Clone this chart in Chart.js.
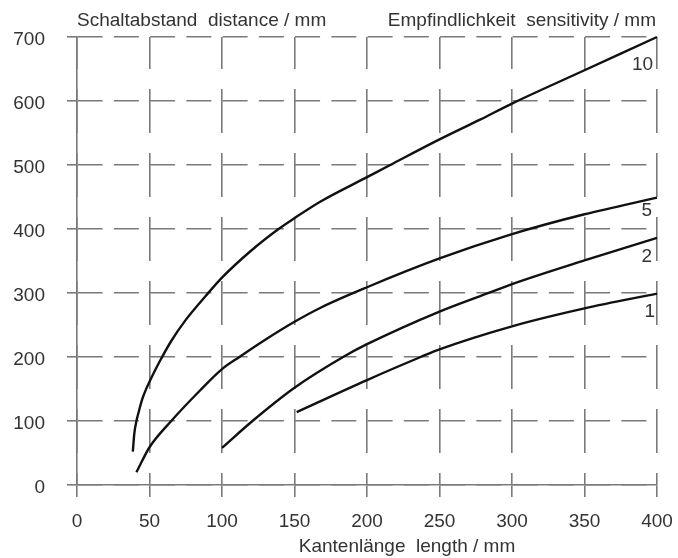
<!DOCTYPE html>
<html>
<head>
<meta charset="utf-8">
<script src="https://cdn.jsdelivr.net/npm/chart.js@4.4.0/dist/chart.umd.min.js"></script>
<style>
  html, body { margin: 0; padding: 0; background: #fff; }
  #wrap { width: 678px; height: 558px; }
</style>
</head>
<body>
<div id="wrap"><canvas id="chart" width="678" height="558"></canvas></div>
<script>
// Kantenlänge (mm) und Schaltabstand (mm) je Empfindlichkeit
const curve10X = [38.5, 39.5, 41, 43, 45, 47.5, 50, 53, 57, 65, 75, 89, 100, 120, 139, 150, 168, 200, 216, 250, 278, 300, 350, 400];
const curve10Y = [52, 80, 100, 118, 134, 149, 161.5, 175.5, 193, 225, 258, 296, 324, 366, 400, 417, 443, 481, 500, 540, 571, 596, 648, 700];

const curve5X = [41, 50, 65, 85, 100, 112, 128.5, 150, 168, 200, 250, 300, 350, 400];
const curve5Y = [20, 59, 100, 148, 181, 200, 225, 255, 277, 309, 354, 392, 423, 449];

const curve2X = [100, 121, 150, 183.5, 200, 250, 282.5, 300, 350, 400];
const curve2Y = [58, 100, 152, 200, 220, 271, 299, 314, 351, 386];

const curve1X = [151.5, 200, 237, 250, 300, 350, 400];
const curve1Y = [114, 164, 200, 212, 248, 276, 299];

const curveNames = ["10", "5", "2", "1"];

const xTicks = [0, 50, 100, 150, 200, 250, 300, 350, 400];
const yTicks = [0, 100, 200, 300, 400, 500, 600, 700];

// Ankerpunkte der Kurvenbeschriftungen (Datenkoordinaten)
const nameAnchorX = [390, 393, 393, 395];
const nameAnchorY = [656, 428, 356, 270];

const FONT = "'Liberation Sans', Arial, Helvetica, sans-serif";
const TEXT = "#333";
const GRID = "#7a7a7a";

function toPoints(xs, ys) {
  return xs.map((x, i) => ({ x: x, y: ys[i] }));
}

function curve(xs, ys) {
  return {
    data: toPoints(xs, ys),
    showLine: true,
    borderColor: "#111",
    borderWidth: 2.4,
    pointRadius: 0,
    cubicInterpolationMode: "monotone",
    fill: false,
    clip: false,
  };
}

const labelsPlugin = {
  id: "labels",
  afterDraw(chart) {
    const ctx = chart.ctx;
    const xs = chart.scales.x;
    const ys = chart.scales.y;
    ctx.save();
    ctx.fillStyle = TEXT;
    ctx.font = "19px " + FONT;
    ctx.textBaseline = "middle";
    ctx.textAlign = "left";
    ctx.fillText("Schaltabstand  distance / mm", 77, 21);
    ctx.textAlign = "right";
    ctx.fillText("Empfindlichkeit  sensitivity / mm", 656, 21);

    // Achsentitel unten, leicht nach rechts versetzt wie im Original
    ctx.textAlign = "center";
    ctx.fillText("Kantenlänge  length / mm", 407, 547);

    curveNames.forEach((name, i) => {
      ctx.fillText(
        name,
        xs.getPixelForValue(nameAnchorX[i]),
        ys.getPixelForValue(nameAnchorY[i])
      );
    });
    ctx.restore();
  },
};

new Chart(document.getElementById("chart").getContext("2d"), {
  type: "scatter",
  data: {
    datasets: [
      curve(curve10X, curve10Y),
      curve(curve5X, curve5Y),
      curve(curve2X, curve2Y),
      curve(curve1X, curve1Y),
    ],
  },
  options: {
    responsive: false,
    animation: false,
    layout: { padding: { top: 37, right: 21, left: 0, bottom: 0 } },
    plugins: {
      legend: { display: false },
      tooltip: { enabled: false },
    },
    scales: {
      x: {
        type: "linear",
        min: 0,
        max: 400,
        afterBuildTicks: (scale) => {
          scale.ticks = xTicks.map((v) => ({ value: v }));
        },
        afterFit: (scale) => {
          scale.height = 73;
          scale.paddingLeft = 0;
          scale.paddingRight = 0;
        },
        ticks: {
          font: { size: 19, family: FONT },
          color: TEXT,
          padding: 13,
          maxRotation: 0,
        },
        grid: {
          color: GRID,
          lineWidth: 1.6,
          tickLength: 12,
          tickColor: GRID,
          tickWidth: 1.6,
        },
        border: {
          display: true,
          color: GRID,
          width: 1.6,
          dash: [44, 20],
          dashOffset: 12,
        },
      },
      y: {
        type: "linear",
        min: 0,
        max: 700,
        afterBuildTicks: (scale) => {
          scale.ticks = yTicks.map((v) => ({ value: v }));
        },
        afterFit: (scale) => {
          scale.width = 77;
        },
        ticks: {
          font: { size: 19, family: FONT },
          color: TEXT,
          padding: 22,
          labelOffset: 3,
        },
        grid: {
          color: GRID,
          lineWidth: 1.6,
          tickLength: 10,
          tickColor: GRID,
          tickWidth: 1.6,
        },
        border: {
          display: true,
          color: GRID,
          width: 1.6,
          dash: [25, 11.25],
        },
      },
    },
  },
  plugins: [labelsPlugin],
});
</script>
</body>
</html>
